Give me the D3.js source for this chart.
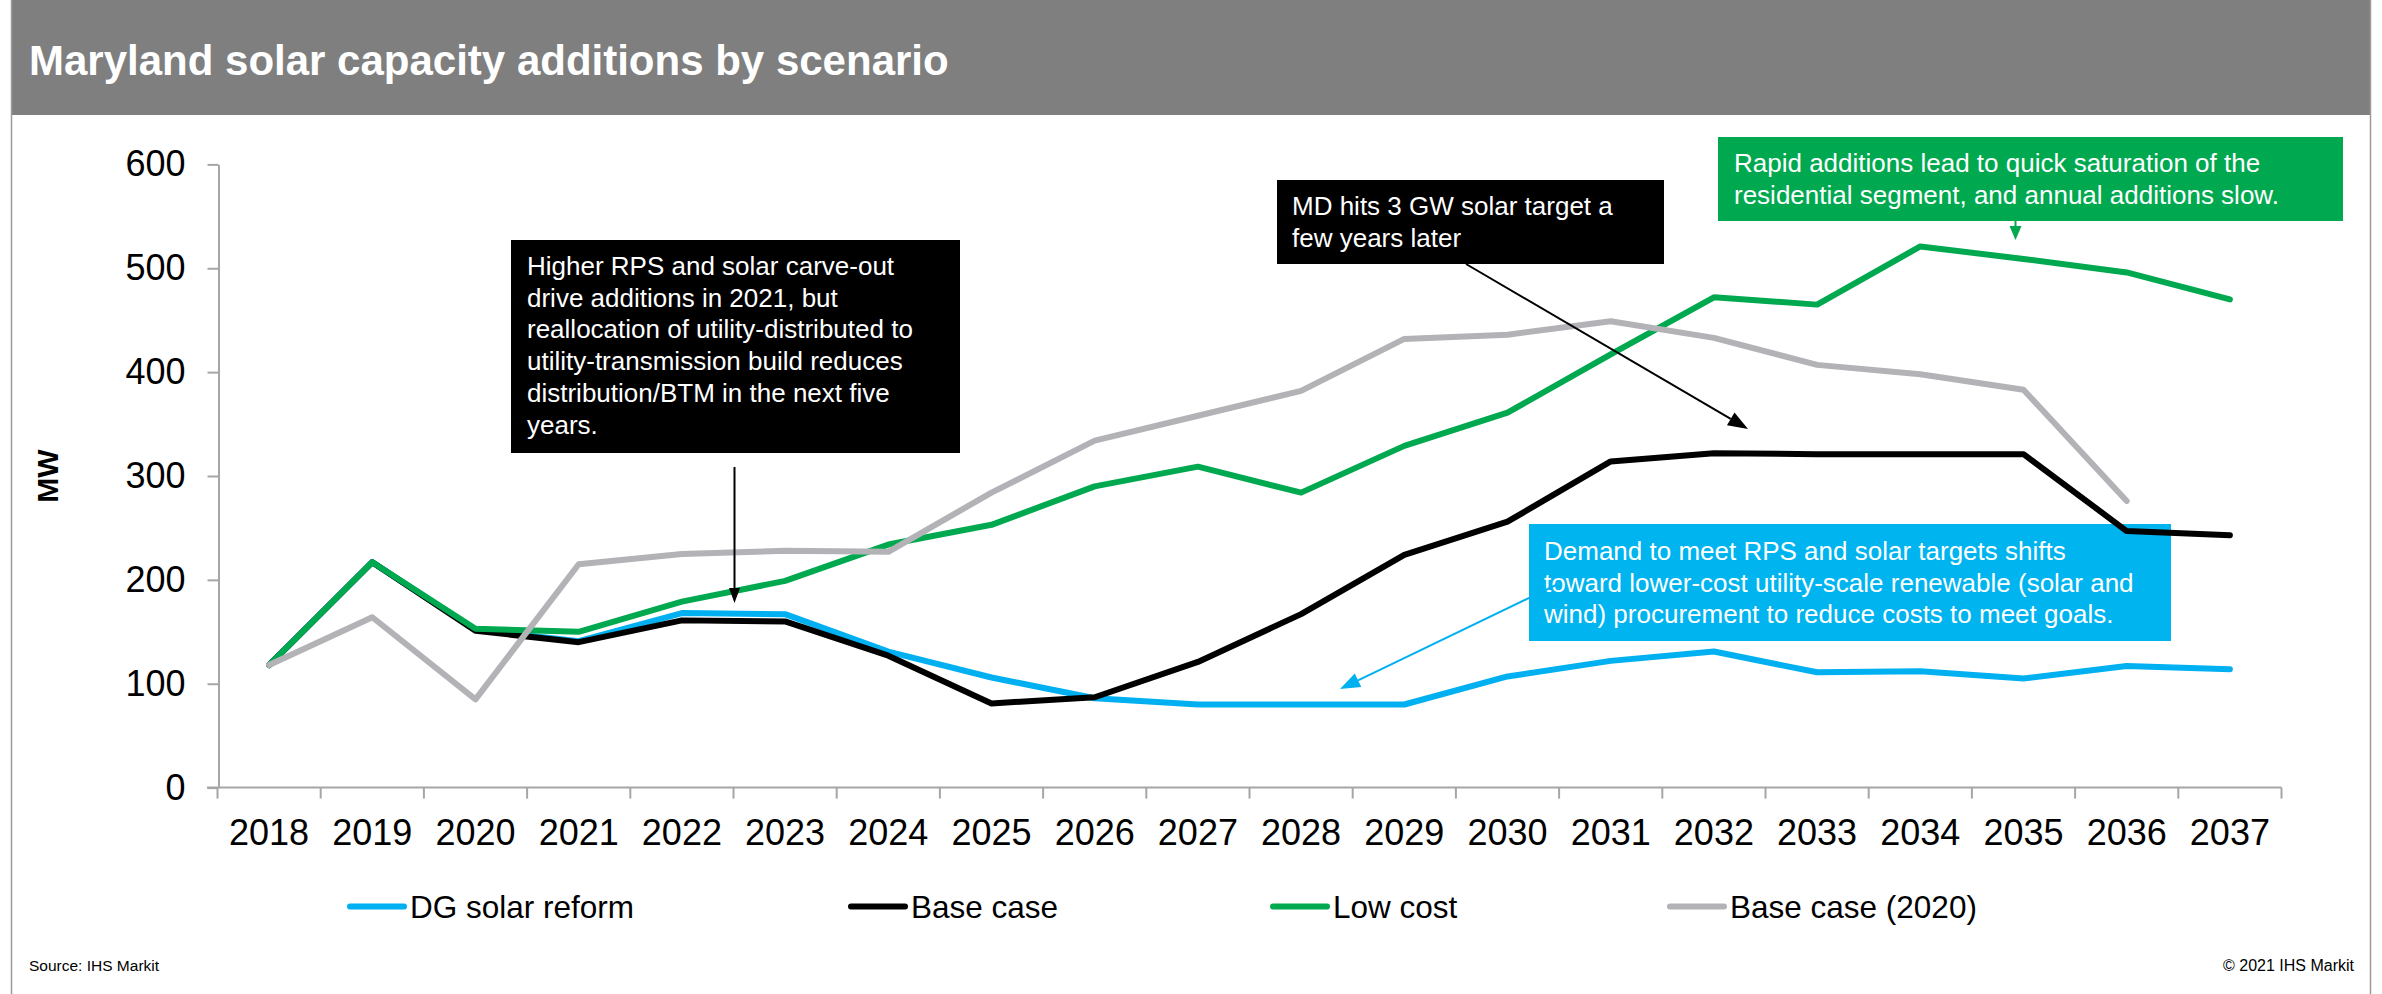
<!DOCTYPE html>
<html>
<head>
<meta charset="utf-8">
<script src="https://cdn.jsdelivr.net/npm/d3@7/dist/d3.min.js"></script>
<style>
  html, body { margin: 0; padding: 0; background: #fff; }
  svg { display: block; font-family: "Liberation Sans", Arial, Helvetica, sans-serif; }
</style>
</head>
<body>
<svg id="chart" width="2382" height="994"></svg>
<script>
// Annual solar capacity additions in Maryland (MW), by scenario
const years = ["2018","2019","2020","2021","2022","2023","2024","2025","2026","2027",
               "2028","2029","2030","2031","2032","2033","2034","2035","2036","2037"];
const dgSolarReform = [118, 217, 152, 141, 168, 167, 131, 106, 86, 80, 80, 80, 107, 122, 131, 111, 112, 105, 117, 114];
const baseCase      = [118, 217, 151, 140, 161, 160, 127, 81, 87, 121, 167, 224, 256, 314, 322, 321, 321, 321, 247, 243];
const lowCost       = [118, 217, 153, 150, 179, 199, 234, 253, 290, 309, 284, 329, 361, 417, 472, 465, 521, 509, 496, 470];
const baseCase2020  = [118, 164, 85, 215, 225, 228, 227, 284, 334, 358, 382, 432, 436, 449, 433, 407, 398, 383, 276, null];
const yTicks = [0, 100, 200, 300, 400, 500, 600];

const seriesNames  = ["DG solar reform", "Base case", "Low cost", "Base case (2020)"];
const seriesColors = ["#00b0f0", "#000000", "#00a94f", "#b3b3b7"];
const seriesValues = [dgSolarReform, baseCase, lowCost, baseCase2020];

const svg = d3.select("#chart");
const font = "'Liberation Sans', Arial, Helvetica, sans-serif";

// slide frame and title bar
svg.append("rect").attr("x", 11.5).attr("y", 0).attr("width", 2359).attr("height", 115).attr("fill", "#7f7f7f");
svg.append("line").attr("x1", 11.5).attr("x2", 11.5).attr("y1", 0).attr("y2", 994).attr("stroke", "#9a9a9a").attr("stroke-width", 1.5);
svg.append("line").attr("x1", 2370.5).attr("x2", 2370.5).attr("y1", 0).attr("y2", 994).attr("stroke", "#9a9a9a").attr("stroke-width", 1.5);
svg.append("text").attr("x", 29).attr("y", 75)
  .attr("fill", "#fff").attr("font-size", 42).attr("font-weight", "bold")
  .text("Maryland solar capacity additions by scenario");

// scales
const x = d3.scaleBand().domain(years).range([217.5, 2281.5]).paddingInner(0).paddingOuter(0);
const y = d3.scaleLinear().domain([0, 600]).range([787.6, 164.4]);
const cx = d => x(d) + x.bandwidth() / 2;

// y axis
const yAxis = svg.append("g").attr("transform", "translate(218.5,0)")
  .call(d3.axisLeft(y).tickValues(yTicks).tickSize(11).tickSizeOuter(0).tickPadding(22));
yAxis.select(".domain").attr("stroke", "#a6a6a6").attr("stroke-width", 2);
yAxis.selectAll(".tick line").attr("stroke", "#a6a6a6").attr("stroke-width", 2);
yAxis.selectAll(".tick text").attr("font-family", font).attr("font-size", 36).attr("fill", "#000");

// x axis: labels centred in categories, tick marks between categories
const xAxis = svg.append("g").attr("transform", `translate(0,${y(0)})`)
  .call(d3.axisBottom(x).tickSize(0).tickSizeOuter(0).tickPadding(32));
xAxis.select(".domain").remove();
xAxis.selectAll(".tick text").attr("font-family", font).attr("font-size", 36).attr("fill", "#000");
svg.append("line").attr("x1", 207).attr("x2", x.range()[1]).attr("y1", y(0)).attr("y2", y(0))
  .attr("stroke", "#a6a6a6").attr("stroke-width", 2);
const boundaries = years.map(d => x(d)).concat([x.range()[1]]);
svg.append("g").selectAll("line").data(boundaries).join("line")
  .attr("x1", d => d).attr("x2", d => d).attr("y1", y(0)).attr("y2", y(0) + 11)
  .attr("stroke", "#a6a6a6").attr("stroke-width", 2);

// axis title
svg.append("text").attr("transform", `translate(58,${(y(0) + y(600)) / 2}) rotate(-90)`)
  .attr("text-anchor", "middle").attr("font-size", 30).attr("font-weight", "bold").text("MW");

// annotation boxes
function note(x0, y0, w, h, fill, lines, tx, firstBase) {
  svg.append("rect").attr("x", x0).attr("y", y0).attr("width", w).attr("height", h).attr("fill", fill);
  const t = svg.append("text").attr("font-size", 26).attr("fill", "#fff");
  lines.forEach((ln, i) => t.append("tspan").attr("x", tx).attr("y", firstBase + i * 31.7).text(ln));
}
note(511, 240, 449, 213, "#000", [
  "Higher RPS and solar carve-out",
  "drive additions in 2021, but",
  "reallocation of utility-distributed to",
  "utility-transmission build reduces",
  "distribution/BTM in the next five",
  "years."], 527, 275);
note(1277, 180, 387, 84, "#000", [
  "MD hits 3 GW solar target a",
  "few years later"], 1292, 215);
note(1718, 137, 625, 84, "#00a94f", [
  "Rapid additions lead to quick saturation of the",
  "residential segment, and annual additions slow."], 1734, 172);
note(1529, 524, 642, 117, "#00b4f0", [
  "Demand to meet RPS and solar targets shifts",
  "toward lower-cost utility-scale renewable (solar and",
  "wind) procurement to reduce costs to meet goals."], 1544, 560);

// series lines
const line = d3.line()
  .defined(d => d.v != null)
  .x(d => cx(d.year))
  .y(d => y(d.v));
seriesValues.forEach((vals, i) => {
  svg.append("path")
    .datum(years.map((yr, j) => ({ year: yr, v: vals[j] })))
    .attr("d", line)
    .attr("fill", "none")
    .attr("stroke", seriesColors[i])
    .attr("stroke-width", 6)
    .attr("stroke-linejoin", "round")
    .attr("stroke-linecap", "round");
});

// callout arrows
function arrow(x1, y1, x2, y2, color, width, headLen, headW) {
  const ang = Math.atan2(y2 - y1, x2 - x1);
  const bx = x2 - headLen * Math.cos(ang), by = y2 - headLen * Math.sin(ang);
  svg.append("line").attr("x1", x1).attr("y1", y1).attr("x2", bx).attr("y2", by)
    .attr("stroke", color).attr("stroke-width", width);
  const px = -Math.sin(ang) * headW / 2, py = Math.cos(ang) * headW / 2;
  svg.append("path")
    .attr("d", `M${x2},${y2}L${bx + px},${by + py}L${bx - px},${by - py}Z`)
    .attr("fill", color);
}
arrow(734.5, 467, 734.5, 603, "#000", 2, 15, 11);
arrow(1466, 264, 1748, 429, "#000", 2, 20, 15);
arrow(2015.5, 221, 2015.5, 240, "#00a94f", 2, 14, 12);
arrow(1556, 585, 1340, 689, "#00b0f0", 2, 20, 15);

// legend
const legendX = [350, 851, 1273, 1670];
const lg = svg.append("g");
seriesNames.forEach((name, i) => {
  lg.append("line").attr("x1", legendX[i]).attr("x2", legendX[i] + 54)
    .attr("y1", 906.5).attr("y2", 906.5)
    .attr("stroke", seriesColors[i]).attr("stroke-width", 6).attr("stroke-linecap", "round");
  lg.append("text").attr("x", legendX[i] + 60).attr("y", 917.5)
    .attr("font-size", 31.5).attr("fill", "#000").text(name);
});

// footer
svg.append("text").attr("x", 29).attr("y", 971).attr("font-size", 15.5).text("Source: IHS Markit");
svg.append("text").attr("x", 2354).attr("y", 971).attr("font-size", 16).attr("text-anchor", "end").text("© 2021 IHS Markit");
</script>
</body>
</html>
